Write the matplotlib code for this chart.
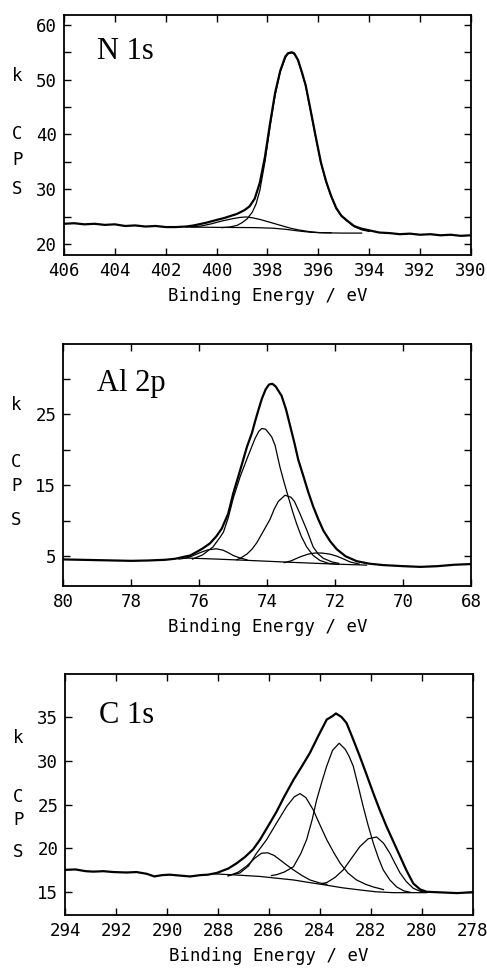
import matplotlib
matplotlib.use("Agg")
import matplotlib.pyplot as plt
from matplotlib.ticker import MultipleLocator, FixedLocator

plt.rcParams["font.family"] = "DejaVu Sans Mono"

# ---------------- N 1s ----------------
n1s_be = [406.0, 405.6, 405.2, 404.8, 404.4, 404.0, 403.6, 403.2, 402.8, 402.4,
          402.0, 401.6, 401.2, 400.9, 400.4, 400.0, 399.7, 399.4, 399.2, 398.9,
          398.7, 398.5, 398.3, 398.1, 397.9, 397.7, 397.5, 397.3, 397.2, 397.05,
          396.95, 396.8, 396.65, 396.5, 396.3, 396.1, 395.9, 395.7, 395.5, 395.3,
          395.1, 394.9, 394.6, 394.3, 394.0, 393.6, 393.2, 392.8, 392.4, 392.0,
          391.6, 391.2, 390.8, 390.4, 390.0]
n1s_cps = [23.7, 23.8, 23.6, 23.7, 23.5, 23.6, 23.3, 23.4, 23.2, 23.3,
           23.1, 23.1, 23.2, 23.4, 23.9, 24.4, 24.75, 25.2, 25.5, 26.2,
           26.9, 28.3, 31.2, 35.9, 42.0, 47.6, 51.6, 54.2, 54.8, 55.0,
           54.8, 53.6, 51.4, 49.0, 44.3, 39.5, 34.9, 31.5, 28.8, 26.6,
           25.2, 24.4, 23.3, 22.8, 22.5, 22.1, 22.0, 21.8, 21.9, 21.7,
           21.8, 21.6, 21.7, 21.5, 21.6]

n1s_main_be = [399.8, 399.5, 399.2, 399.0, 398.8, 398.6, 398.45, 398.3, 398.1, 397.9,
               397.7, 397.5, 397.3, 397.2, 397.05, 396.95, 396.8, 396.65, 396.5, 396.3,
               396.1, 395.9, 395.7, 395.5, 395.3, 395.1, 394.9, 394.6, 394.3, 394.0]
n1s_main_cps = [23.0, 23.1, 23.4, 23.9, 24.6, 25.8, 27.3, 29.8, 35.0, 41.4,
                47.2, 51.4, 54.0, 54.7, 54.9, 54.7, 53.5, 51.3, 48.9, 44.2,
                39.4, 34.8, 31.4, 28.7, 26.5, 25.1, 24.3, 23.2, 22.6, 22.3]

n1s_minor_be = [401.0, 400.6, 400.2, 399.8, 399.4, 399.1, 398.85, 398.6, 398.3, 398.0,
                397.7, 397.4, 397.1, 396.8, 396.4, 396.0, 395.5]
n1s_minor_cps = [23.1, 23.3, 23.7, 24.2, 24.6, 24.85, 24.95, 24.8, 24.5, 24.1,
                 23.7, 23.3, 22.9, 22.6, 22.3, 22.1, 22.05]

n1s_bg_be = [401.2, 400.0, 398.5, 397.8, 397.3, 396.8, 396.3, 395.8, 395.0, 394.3]
n1s_bg_cps = [23.1, 23.05, 23.0, 22.9, 22.7, 22.4, 22.15, 22.05, 22.0, 22.0]

# ---------------- Al 2p ----------------
al_be = [80.0, 79.5, 79.0, 78.5, 78.0, 77.5, 77.0, 76.7, 76.47, 76.27,
         76.08, 75.9, 75.69, 75.5, 75.34, 75.15, 75.0, 74.8, 74.6, 74.45,
         74.36, 74.25, 74.16, 74.05, 73.95, 73.85, 73.75, 73.58, 73.45, 73.33,
         73.2, 73.09, 72.94, 72.8, 72.65, 72.5, 72.35, 72.15, 71.96, 71.7,
         71.37, 71.0, 70.59, 70.0, 69.5, 69.0, 68.5, 68.0]
al_cps = [4.55, 4.5, 4.45, 4.4, 4.35, 4.4, 4.5, 4.65, 4.9, 5.1,
          5.6, 6.1, 6.8, 7.8, 8.9, 11.0, 13.9, 17.1, 20.4, 22.4,
          24.0, 25.8, 27.2, 28.5, 29.2, 29.3, 28.9, 27.6, 25.7, 23.4,
          20.9, 18.6, 16.3, 14.1, 12.0, 10.2, 8.6, 7.1, 6.0, 5.0,
          4.3, 3.95, 3.75, 3.6, 3.5, 3.6, 3.8, 3.9]

al_a_be = [76.2, 75.9, 75.6, 75.4, 75.29, 75.15, 75.0, 74.8, 74.56, 74.36,
           74.25, 74.16, 74.05, 73.95, 73.87, 73.77, 73.63, 73.5, 73.38, 73.25,
           73.14, 73.0, 72.84, 72.65, 72.45, 72.2, 71.9]
al_a_cps = [4.6, 5.2, 6.3, 7.6, 8.4, 10.4, 13.2, 16.2, 19.2, 21.6,
            22.6, 23.0, 22.9, 22.3, 21.8, 20.6, 17.6, 15.3, 13.3, 11.2,
            9.6, 7.8, 6.3, 5.1, 4.4, 4.0, 3.85]

al_b_be = [74.9, 74.8, 74.6, 74.45, 74.31, 74.12, 73.92, 73.8, 73.68, 73.48,
           73.3, 73.2, 73.04, 72.84, 72.65, 72.5, 72.35, 72.1, 71.9]
al_b_cps = [4.5, 4.7, 5.3, 6.0, 6.9, 8.5, 10.2, 11.6, 12.7, 13.6,
            13.3, 12.7, 11.0, 8.7, 6.3, 5.3, 4.7, 4.2, 4.0]

al_c_be = [76.6, 76.37, 76.2, 75.98, 75.75, 75.5, 75.3, 75.15, 75.0, 74.8, 74.6]
al_c_cps = [4.6, 4.75, 5.05, 5.5, 5.9, 6.05, 5.85, 5.5, 5.1, 4.75, 4.5]

al_d_be = [73.5, 73.3, 73.04, 72.8, 72.6, 72.4, 72.16, 71.95, 71.75, 71.57, 71.3]
al_d_cps = [4.1, 4.35, 4.9, 5.3, 5.45, 5.45, 5.3, 5.0, 4.6, 4.2, 3.9]

al_bg_be = [76.4, 75.5, 74.5, 73.33, 72.06, 71.08]
al_bg_cps = [4.75, 4.6, 4.4, 4.15, 3.9, 3.75]

# ---------------- C 1s ----------------
c1s_be = [294.0, 293.6, 293.2, 292.9, 292.5, 292.1, 291.6, 291.2, 290.8, 290.5,
          290.2, 289.9, 289.5, 289.1, 288.7, 288.4, 288.05, 287.6, 287.27, 286.95,
          286.62, 286.35, 285.96, 285.7, 285.4, 285.04, 284.7, 284.39, 284.05, 283.73,
          283.5, 283.37, 283.15, 282.95, 282.7, 282.43, 282.15, 281.9, 281.65, 281.38,
          281.1, 280.85, 280.6, 280.33, 280.05, 279.8, 279.4, 279.0, 278.6, 278.3, 278.0]
c1s_cps = [17.55, 17.6, 17.4, 17.35, 17.4, 17.3, 17.25, 17.3, 17.1, 16.8,
           16.95, 17.0, 16.9, 16.8, 16.95, 17.0, 17.2, 17.7, 18.3, 19.0,
           19.9, 21.0, 22.9, 24.2, 25.9, 27.8, 29.4, 30.9, 32.9, 34.7,
           35.1, 35.4, 35.0, 34.3, 32.5, 30.5, 28.3, 26.3, 24.4, 22.5,
           20.7, 19.1, 17.5, 16.0, 15.3, 15.05, 15.0, 14.95, 14.9, 14.95, 15.0]

c1_be = [287.6, 287.2, 286.87, 286.55, 286.29, 286.05, 285.8, 285.57, 285.3, 285.04,
         284.7, 284.39, 284.0, 283.73]
c1_cps = [16.85, 17.3, 18.0, 18.9, 19.45, 19.5, 19.2, 18.7, 18.1, 17.55,
          16.9, 16.4, 16.05, 15.9]

c2_be = [287.6, 287.14, 286.8, 286.5, 286.09, 285.7, 285.3, 285.0, 284.78, 284.55,
         284.26, 284.0, 283.73, 283.45, 283.2, 282.9, 282.56, 282.2, 281.9, 281.5]
c2_cps = [16.9, 17.2, 18.0, 19.4, 21.0, 22.9, 24.8, 25.9, 26.25, 25.8,
          24.4, 22.7, 21.0, 19.5, 18.3, 17.2, 16.4, 15.9, 15.6, 15.3]

c3_be = [285.9, 285.7, 285.4, 285.04, 284.75, 284.52, 284.3, 284.13, 283.9, 283.73,
         283.5, 283.24, 283.0, 282.85, 282.69, 282.5, 282.3, 282.1, 281.9, 281.7,
         281.51, 281.25, 280.98, 280.7, 280.46]
c3_cps = [16.9, 17.0, 17.3, 17.9, 19.4, 21.0, 23.3, 25.5, 27.8, 29.4,
          31.2, 32.0, 31.3, 30.5, 29.4, 27.2, 24.8, 22.6, 20.6, 18.9,
          17.55, 16.4, 15.6, 15.15, 15.0]

c4_be = [283.9, 283.73, 283.4, 283.08, 282.75, 282.43, 282.1, 281.77, 281.5, 281.25,
         281.05, 280.85, 280.6, 280.33, 280.05, 279.8]
c4_cps = [16.0, 16.1, 16.7, 17.55, 18.9, 20.2, 21.1, 21.3, 20.6, 19.45,
          18.3, 17.2, 16.2, 15.45, 15.1, 15.0]

c1s_bg_be = [288.2, 287.5, 286.35, 285.7, 285.04, 284.4, 283.73, 283.1, 282.43, 281.8,
             281.12, 280.5, 279.8]
c1s_bg_cps = [17.1, 17.0, 16.8, 16.6, 16.4, 16.1, 15.8, 15.5, 15.26, 15.05,
              14.95, 14.95, 14.95]


def style_axes(ax, xlim, ylim, ymajor, yminor, label, label_y, ylet):
    ax.set_xlim(*xlim)
    ax.set_ylim(*ylim)
    ax.xaxis.set_major_locator(MultipleLocator(2))
    ax.yaxis.set_major_locator(FixedLocator(ymajor))
    ax.yaxis.set_minor_locator(FixedLocator(yminor))
    ax.tick_params(which="both", direction="in", top=True, right=True,
                   length=5, width=1.0, labelsize=12.5, pad=5)
    for s in ax.spines.values():
        s.set_linewidth(1.3)
    ax.set_xlabel("Binding Energy / eV", fontsize=12.5, labelpad=5)
    ax.text(0.082, label_y, label, transform=ax.transAxes, family="Liberation Serif",
            fontsize=22, va="baseline", ha="left")
    for ch, yy in zip("kCPS", ylet):
        ax.text(-0.115, yy, ch, transform=ax.transAxes, fontsize=12.5,
                ha="center", va="center")


fig = plt.figure(figsize=(4.87, 9.73), dpi=100)
thick = dict(color="black", lw=1.6, solid_joinstyle="round")
thin = dict(color="black", lw=0.9, solid_joinstyle="round")

ax1 = fig.add_axes([0.1314, 0.7379, 0.8357, 0.2467])
ax1.plot(n1s_bg_be, n1s_bg_cps, **thin)
ax1.plot(n1s_minor_be, n1s_minor_cps, **thin)
ax1.plot(n1s_main_be, n1s_main_cps, **thin)
ax1.plot(n1s_be, n1s_cps, **thick)
style_axes(ax1, (406, 390), (18, 61.8), [20, 30, 40, 50, 60], [25, 35, 45, 55],
           "N 1s", 0.817, [0.745, 0.503, 0.395, 0.275])

ax2 = fig.add_axes([0.130, 0.3977, 0.8378, 0.2487])
ax2.plot(al_bg_be, al_bg_cps, **thin)
ax2.plot(al_c_be, al_c_cps, **thin)
ax2.plot(al_d_be, al_d_cps, **thin)
ax2.plot(al_b_be, al_b_cps, **thin)
ax2.plot(al_a_be, al_a_cps, **thin)
ax2.plot(al_be, al_cps, **thick)
style_axes(ax2, (80, 68), (0.8, 34.9), [5, 15, 25], [10, 20, 30],
           "Al 2p", 0.806, [0.748, 0.512, 0.413, 0.273])

ax3 = fig.add_axes([0.1341, 0.0596, 0.8363, 0.2477])
ax3.plot(c1s_bg_be, c1s_bg_cps, **thin)
ax3.plot(c1_be, c1_cps, **thin)
ax3.plot(c2_be, c2_cps, **thin)
ax3.plot(c3_be, c3_cps, **thin)
ax3.plot(c4_be, c4_cps, **thin)
ax3.plot(c1s_be, c1s_cps, **thick)
style_axes(ax3, (294, 278), (12.4, 39.9), [15, 20, 25, 30, 35], [],
           "C 1s", 0.798, [0.734, 0.490, 0.394, 0.261])

fig.savefig("out.png", dpi=100)
